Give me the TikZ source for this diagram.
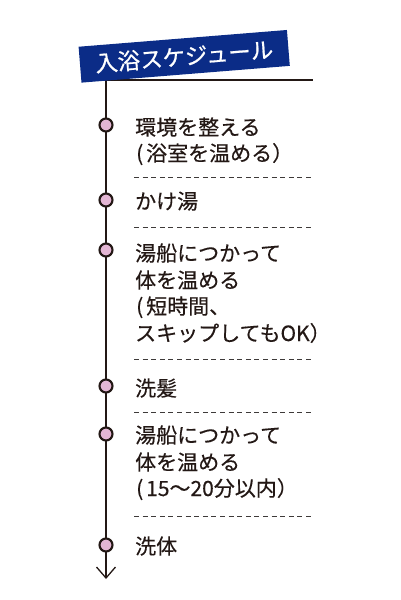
\documentclass[tikz,border=0pt]{standalone}
\usepackage{fontspec}
\setmainfont[FakeBold=0.35]{Noto Sans CJK JP}
\newfontfamily\titlefont[FakeBold=0.8]{Noto Sans CJK JP}
\usetikzlibrary{arrows.meta}
\definecolor{navy}{HTML}{0B2C87}
\definecolor{dotpink}{HTML}{E4B6D4}
\definecolor{ink}{HTML}{231815}
\definecolor{rule}{HTML}{3E3A39}
\newcommand{\lparen}{\makebox[11pt][l]{\hspace{1pt}(}}
\tikzset{
  banner/.style={fill=navy, text=white, minimum width=209pt, minimum height=36pt,
    inner sep=0pt, rotate=4.6, font=\titlefont\fontsize{22.5}{22.5}\selectfont},
  dotnode/.style={circle, draw=ink, line width=2.1pt, fill=dotpink, minimum size=13pt, inner sep=0pt},
  txt/.style={anchor=base west, inner sep=0pt, text=ink, font=\fontsize{21}{21}\selectfont},
  sep/.style={draw=rule, line width=0.9pt, dash pattern=on 5pt off 3.6pt},
  spine/.style={draw=ink, line width=1.3pt},
}
\begin{document}
\begin{tikzpicture}[x=1pt,y=-1pt]
\useasboundingbox (0,0) rectangle (400,600);
% spine and top rule
\coordinate (top) at (106,80);
\coordinate (hr) at (313,80);
\coordinate (tip) at (106,579);
\draw[spine] (top) -- (hr);
\draw[spine, -{Straight Barb[length=11pt,width=19pt,line width=1.3pt]}] (top) -- (tip);
% banner
\node[banner] (title) at (184.2,56.3) {入浴スケジュール};
% dots
\node[dotnode] (d1) at (106,125) {};
\node[dotnode] (d2) at (106,200) {};
\node[dotnode] (d3) at (106,250) {};
\node[dotnode] (d4) at (106,386) {};
\node[dotnode] (d5) at (106,434) {};
\node[dotnode] (d6) at (106,545) {};
% texts
\node[txt] (t1a) at (135,135) {環境を整える};
\node[txt] (t1b) at (135,161) {\lparen 浴室を温める）};
\node[txt] (t2a) at (135,209) {かけ湯};
\node[txt] (t3a) at (135,261) {湯船につかって};
\node[txt] (t3b) at (135,288) {体を温める};
\node[txt] (t3c) at (135,314) {\lparen 短時間、};
\node[txt] (t3d) at (135,341) {スキップしてもOK）};
\node[txt] (t4a) at (135,396) {洗髪};
\node[txt] (t5a) at (135,443) {湯船につかって};
\node[txt] (t5b) at (135,470) {体を温める};
\node[txt] (t5c) at (135,496) {\lparen 15～20分以内）};
\node[txt] (t6a) at (135,554) {洗体};
% separators
\coordinate (s1a) at (134,177); \coordinate (s1b) at (313,177);
\coordinate (s2a) at (134,227); \coordinate (s2b) at (313,227);
\coordinate (s3a) at (134,359); \coordinate (s3b) at (313,359);
\coordinate (s4a) at (134,412); \coordinate (s4b) at (313,412);
\coordinate (s5a) at (134,516); \coordinate (s5b) at (313,516);
\draw[sep] (s1a) -- (s1b);
\draw[sep] (s2a) -- (s2b);
\draw[sep] (s3a) -- (s3b);
\draw[sep] (s4a) -- (s4b);
\draw[sep] (s5a) -- (s5b);
\end{tikzpicture}
\end{document}
